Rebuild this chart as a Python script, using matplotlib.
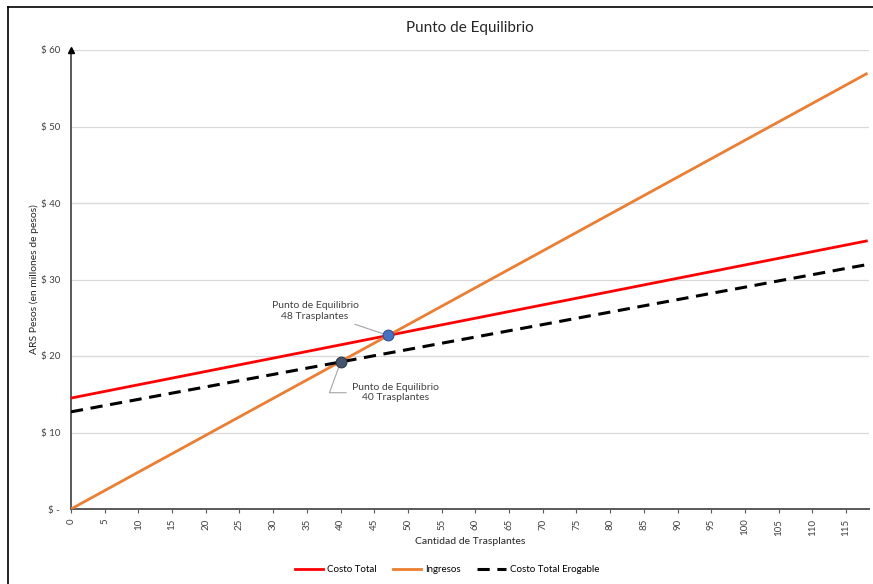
import numpy as np
import matplotlib
matplotlib.use("Agg")
import matplotlib.pyplot as plt
from matplotlib.lines import Line2D

plt.rcParams['font.family'] = ['Lato', 'DejaVu Sans']

# cantidad de trasplantes (cada 5) y montos en millones de pesos
trasplantes = [0, 5, 10, 15, 20, 25, 30, 35, 40, 45, 50, 55, 60, 65, 70,
               75, 80, 85, 90, 95, 100, 105, 110, 115, 118]
costo_total = [14.5, 15.37, 16.24, 17.11, 17.98, 18.85, 19.72, 20.59, 21.46,
               22.33, 23.2, 24.07, 24.94, 25.81, 26.68, 27.55, 28.42, 29.29,
               30.16, 31.03, 31.9, 32.77, 33.64, 34.51, 35.03]
ingresos = [0.0, 2.41, 4.82, 7.23, 9.64, 12.05, 14.46, 16.87, 19.28, 21.69,
            24.1, 26.51, 28.92, 31.33, 33.74, 36.15, 38.56, 40.97, 43.38,
            45.79, 48.2, 50.61, 53.02, 55.43, 56.88]
costo_erogable = [12.7, 13.52, 14.33, 15.15, 15.96, 16.78, 17.59, 18.41,
                  19.22, 20.04, 20.85, 21.67, 22.48, 23.3, 24.11, 24.93,
                  25.74, 26.56, 27.37, 28.19, 29.0, 29.82, 30.63, 31.45, 31.93]

# puntos de equilibrio (x, y)
eq_total = (47, 22.7)
eq_erogable = (40, 19.2)
label_total = "Punto de Equilibrio\n48 Trasplantes"
label_erogable = "Punto de Equilibrio\n40 Trasplantes"

x_ticks = list(range(0, 116, 5))
y_ticks = [0, 10, 20, 30, 40, 50, 60]
y_labels = ["$ -", "$ 10", "$ 20", "$ 30", "$ 40", "$ 50", "$ 60"]

fig = plt.figure(figsize=(8.73, 5.84), dpi=100)
ax = fig.add_axes([71/873, 1-509/584, (869-71)/873, (509-50)/584])

# marco del grafico
fig.add_artist(Line2D([8/873, 8/873], [0, 1-7/584], color='black', lw=1.2))
fig.add_artist(Line2D([8/873, 1], [1-7/584, 1-7/584], color='black', lw=1.2))

ax.plot(trasplantes, costo_total, color='#ff0000', lw=2, label='Costo Total', zorder=3)
ax.plot(trasplantes, ingresos, color='#ed7d31', lw=2, label='Ingresos', zorder=3)
ax.plot(trasplantes, costo_erogable, color='black', lw=2.2, ls=(0, (4, 2.5)),
        label='Costo Total Erogable', zorder=3)

ax.scatter(*eq_total, s=60, color='#4472c4', edgecolor='#2f528f', lw=0.8, zorder=5)
ax.scatter(*eq_erogable, s=60, color='#44546a', edgecolor='#2e3a4a', lw=0.8, zorder=5)

ax.annotate(label_total, xy=eq_total, xytext=(36.2, 25.9), ha='center', va='center',
            fontsize=7.5, color='#404040',
            arrowprops=dict(arrowstyle='-', color='#a6a6a6', lw=0.8,
                            shrinkA=2, shrinkB=4))
ax.annotate(label_erogable, xy=eq_erogable, xytext=(48.1, 15.2), ha='center', va='center',
            fontsize=7.5, color='#404040',
            arrowprops=dict(arrowstyle='-', color='#a6a6a6', lw=0.8,
                            connectionstyle='angle,angleA=0,angleB=70',
                            shrinkA=2, shrinkB=4))

ax.set_xlim(0, 118.4)
ax.set_ylim(0, 60)
ax.set_xticks(x_ticks)
ax.set_xticklabels([str(t) for t in x_ticks], rotation=90, fontsize=7, color='#404040')
ax.set_yticks(y_ticks)
ax.set_yticklabels(y_labels, fontsize=7, color='#404040')
ax.tick_params(axis='y', length=0, pad=8)
ax.tick_params(axis='x', length=3, width=0.8, color='#595959', pad=4)

ax.grid(axis='y', color='#d9d9d9', lw=0.9)
ax.set_axisbelow(True)
for s in ['top', 'right']:
    ax.spines[s].set_visible(False)
ax.spines['left'].set_color('#595959')
ax.spines['bottom'].set_color('#595959')
ax.spines['left'].set_linewidth(1.4)
ax.spines['bottom'].set_linewidth(1.4)
# flecha en el extremo del eje y
ax.plot(0, 60, marker='^', color='black', ms=5, clip_on=False, zorder=6)

ax.set_title("Punto de Equilibrio", fontsize=11, pad=13, color='#262626')
ax.set_xlabel("Cantidad de Trasplantes", fontsize=7.5, color='#262626', labelpad=1)
ax.set_ylabel("ARS Pesos (en millones de pesos)", fontsize=7.5, color='#262626', labelpad=1)

fig.legend(loc='center', bbox_to_anchor=(0.512, 1-570/584), ncol=3, frameon=False,
           fontsize=7, handlelength=2.9, columnspacing=1.7, handletextpad=0.4)

fig.savefig("out.png", dpi=100)
